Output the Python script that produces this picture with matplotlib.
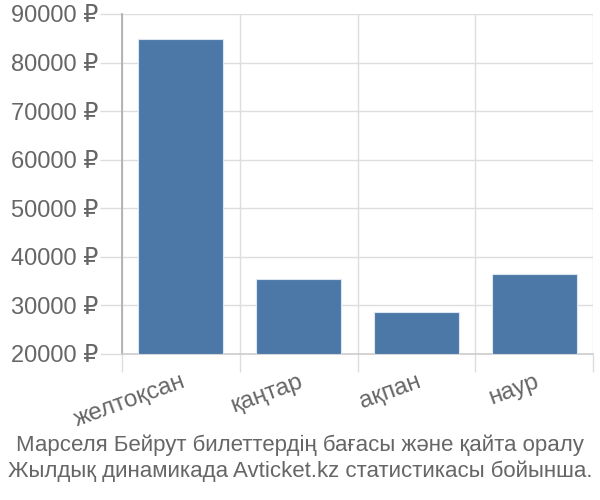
import matplotlib
matplotlib.use('Agg')
import matplotlib.pyplot as plt
from matplotlib.ticker import FuncFormatter

# ── Data ──────────────────────────────────────────────────────────────────────
months = ['желтоқсан', 'қаңтар', 'ақпан', 'наур']
prices = [84800, 35400, 28750, 36400]
y_ticks = [20000, 30000, 40000, 50000, 60000, 70000, 80000, 90000]
caption = ('Марселя Бейрут билеттердің бағасы және қайта оралу\n'
           'Жылдық динамикада Avticket.kz статистикасы бойынша.')

plt.rcParams['font.family'] = ['Liberation Sans', 'DejaVu Sans']
text_col = '#666666'
grid_col = '#dddddd'

fig = plt.figure(figsize=(6, 5), dpi=100)
ax = fig.add_axes([122 / 600, 1 - 354 / 500, (593 - 122) / 600, (354 - 14) / 500])

x = list(range(len(months)))
ax.bar(x, [p - y_ticks[0] for p in prices], bottom=y_ticks[0], width=0.72,
       color='#4c78a8', edgecolor='#dce6f2', linewidth=0.8, zorder=3)

ax.set_xlim(-0.5, len(months) - 0.5)
ax.set_ylim(y_ticks[0], y_ticks[-1])

# grid lines at category boundaries, labels at centers
ax.set_xticks([i - 0.5 for i in range(len(months) + 1)])
ax.set_xticklabels([])
ax.set_xticks(x, minor=True)
ax.set_xticklabels(months, minor=True, rotation=20, ha='right',
                   rotation_mode='anchor', fontsize=17.5, color=text_col)
ax.tick_params(axis='x', which='major', length=13, color=grid_col, width=1)
ax.tick_params(axis='x', which='minor', length=0, pad=12)

ax.set_yticks(y_ticks)
ax.yaxis.set_major_formatter(FuncFormatter(lambda v, _: f'{int(v)} ₽'))
ax.tick_params(axis='y', length=16, color=grid_col, width=1,
               labelsize=17, labelcolor=text_col, pad=1)

ax.grid(True, color=grid_col, linewidth=1, zorder=0)
for side in ['top', 'right']:
    ax.spines[side].set_visible(False)
ax.spines['left'].set_color('#aaaaaa')
ax.spines['bottom'].set_color('#cccccc')
ax.spines['left'].set_linewidth(1.2)
ax.spines['bottom'].set_linewidth(1.2)

fig.text(0.5, 1 - 435 / 500, caption, ha='center', va='top', fontsize=16,
         color=text_col, linespacing=1.25)

fig.savefig('out.png', dpi=100)
